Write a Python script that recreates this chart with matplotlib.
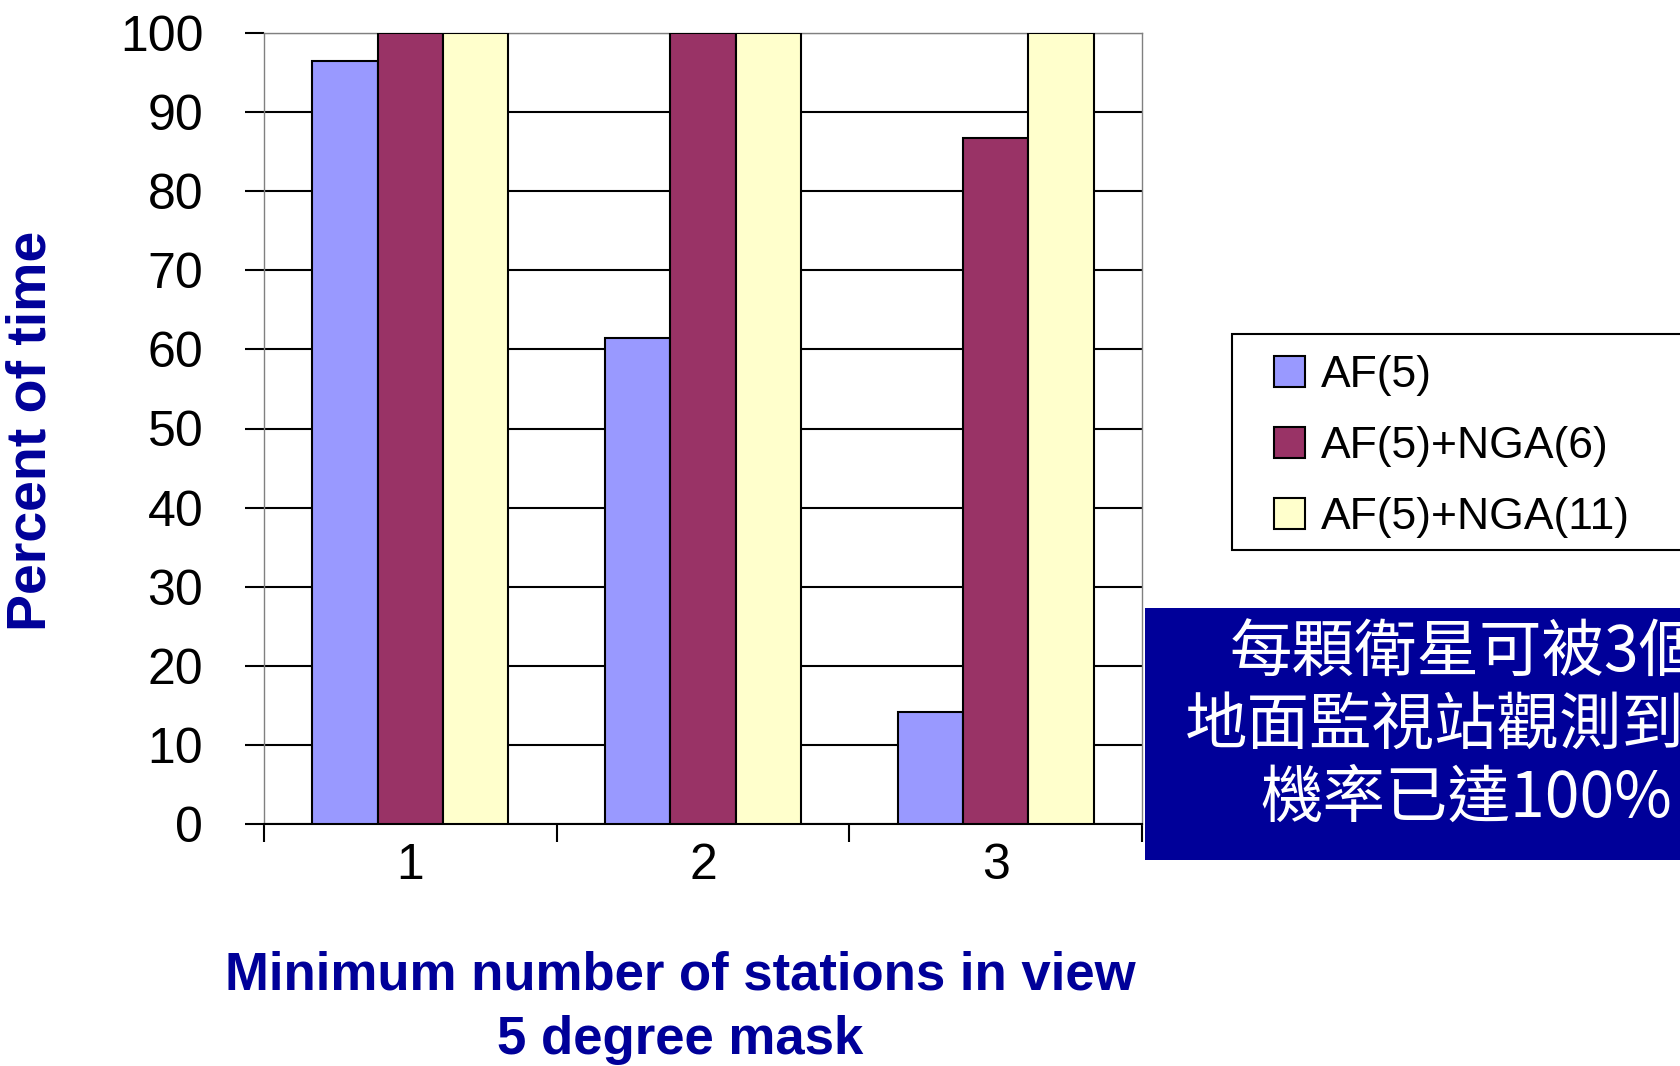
import matplotlib
matplotlib.use("Agg")
import matplotlib.pyplot as plt
from matplotlib.patches import Rectangle
import numpy as np

# data
categories = ["1", "2", "3"]
series_names = ["AF(5)", "AF(5)+NGA(6)", "AF(5)+NGA(11)"]
af5 = [96.5, 61.5, 14.2]
af5_nga6 = [100, 100, 86.7]
af5_nga11 = [100, 100, 100]
y_ticks = list(range(0, 101, 10))
note_lines = ["每顆衛星可被3個", "地面監視站觀測到的", "機率已達100%"]

colors = ["#9999FF", "#993366", "#FFFFCC"]
navy = "#000099"
W, H = 1681, 1066

plt.rcParams["font.family"] = ["Liberation Sans", "DejaVu Sans"]

fig = plt.figure(figsize=(W / 100, H / 100), dpi=100)
ax = fig.add_axes([264 / W, 1 - 824 / H, (1142 - 264) / W, (824 - 33) / H])

x = np.arange(len(categories))
width = 0.2234
for i, (vals, name) in enumerate(zip([af5, af5_nga6, af5_nga11], series_names)):
    ax.bar(x + (i - 1) * width, vals, width, color=colors[i], edgecolor="black",
           linewidth=1.5, label=name, zorder=3)

ax.set_xlim(-0.5, len(categories) - 0.5)
ax.set_ylim(0, 100)
ax.set_yticks(y_ticks)
ax.yaxis.grid(True, color="black", linewidth=1.5)
ax.set_axisbelow(True)
ax.tick_params(axis="y", length=13.7, width=1.5, pad=30, labelsize=36)

# boundary ticks (major) and centred labels (minor)
ax.set_xticks(np.arange(len(categories) + 1) - 0.5)
ax.set_xticklabels([])
ax.set_xticks(x, minor=True)
ax.set_xticklabels(categories, minor=True)
ax.tick_params(axis="x", which="major", length=13, width=1.5, direction="out")
ax.tick_params(axis="x", which="minor", length=0, pad=14, labelsize=36)

for side in ["left", "right", "top"]:
    ax.spines[side].set_color("#808080")
    ax.spines[side].set_linewidth(1)
ax.spines["bottom"].set_color("black")
ax.spines["bottom"].set_linewidth(1.5)

# axis titles
fig.text(32 / W, 1 - 431 / H, "Percent of time", rotation=90, ha="center", va="center",
         fontsize=40, fontweight="bold", color=navy)
fig.text(680 / W, 1 - 975 / H, "Minimum number of stations in view", ha="center", va="center",
         fontsize=38, fontweight="bold", color=navy)
fig.text(680 / W, 1 - 1040 / H, "5 degree mask", ha="center", va="center",
         fontsize=38, fontweight="bold", color=navy)

# legend with a frame running off the right edge
fig.add_artist(Rectangle((1232 / W, 1 - 550 / H), 0.5, (550 - 334) / H, transform=fig.transFigure,
                         facecolor="white", edgecolor="black", linewidth=1.5, zorder=1))
handles, labels = ax.get_legend_handles_labels()
leg = fig.legend(handles, labels, loc="upper left", bbox_to_anchor=(1274 / W, 1 - 355 / H),
                 frameon=False, fontsize=32, borderpad=0, borderaxespad=0,
                 handlelength=0.7, handleheight=0.7, handletextpad=0.36, labelspacing=0.68)
leg.set_zorder(2)

# blue note box (text runs past the right edge, as in the source slide)
fig.add_artist(Rectangle((1145 / W, 1 - 860 / H), 0.5, (860 - 608) / H, transform=fig.transFigure,
                         facecolor=navy, edgecolor="none", zorder=1))
for line, yc in zip(note_lines, [654, 726, 799]):
    fig.text(1466 / W, 1 - yc / H, line, ha="center", va="center", color="white", fontsize=45,
             family=["Noto Sans CJK TC", "DejaVu Sans"], zorder=3)

fig.savefig("out.png", dpi=100)
